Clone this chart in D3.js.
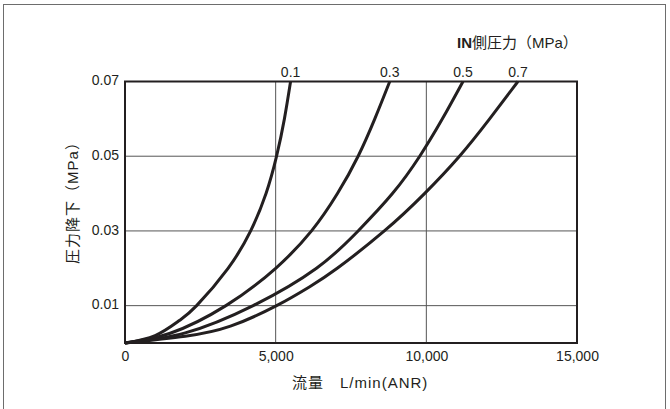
<!DOCTYPE html>
<html><head><meta charset="utf-8">
<script src="https://cdn.jsdelivr.net/npm/d3@7"></script>
<style>
html,body{margin:0;padding:0;background:#fff;}
svg{display:block;}
text{font-family:"Liberation Sans",Arial,"Noto Sans CJK JP",sans-serif;fill:#231f20;}
</style></head>
<body><svg id="c" width="670" height="409"></svg>
<script>
// ---- data ----
const inletPressures = ["0.1", "0.3", "0.5", "0.7"];
const flow01 = [0, 1000, 1800, 2377, 3420, 4170, 4680, 5030, 5290, 5495];
const drop01 = [0, 0.002, 0.006, 0.01, 0.02, 0.03, 0.04, 0.05, 0.06, 0.07];
const flow03 = [0, 1500, 3349, 5000, 6190, 7050, 7736, 8289, 8786];
const drop03 = [0, 0.0026, 0.01, 0.02, 0.03, 0.04, 0.05, 0.06, 0.07];
const flow05 = [0, 2000, 4254, 6355, 7736, 8875, 9781, 10533, 11217];
const drop05 = [0, 0.0027, 0.01, 0.02, 0.03, 0.04, 0.05, 0.06, 0.07];
const flow07 = [0, 2000, 3500, 5030, 6117, 7043, 8606, 9939, 11100, 12100, 13040];
const drop07 = [0, 0.0018, 0.0045, 0.01, 0.015, 0.02, 0.03, 0.04, 0.05, 0.06, 0.07];
const xTicks = [0, 5000, 10000, 15000];
const yTicks = [0.01, 0.03, 0.05, 0.07];
const xGrid = [5000, 10000];
const yGrid = [0.01, 0.03, 0.05];
const xTitle = "流量\u3000L/min(ANR)";
const yTitle = "圧力降下（MPa）";
const legendBold = "IN";
const legendRest = "側圧力（MPa）";

const seriesFlow = [flow01, flow03, flow05, flow07];
const seriesDrop = [drop01, drop03, drop05, drop07];

// ---- scales ----
const x = d3.scaleLinear().domain([0, 15000]).range([125, 577]);
const y = d3.scaleLinear().domain([0, 0.07]).range([343, 81.5]);

const svg = d3.select("#c");
svg.append("rect").attr("width", 670).attr("height", 409).attr("fill", "#fff");
// outer border
svg.append("rect").attr("x", 3.5).attr("y", 4.5).attr("width", 662).attr("height", 420)
  .attr("fill", "none").attr("stroke", "#6d6d6d").attr("stroke-width", 1);

// gridlines
svg.append("g").selectAll("line").data(xGrid).join("line")
  .attr("x1", d => x(d)).attr("x2", d => x(d)).attr("y1", y(0.07)).attr("y2", y(0))
  .attr("stroke", "#555").attr("stroke-width", 1);
svg.append("g").selectAll("line").data(yGrid).join("line")
  .attr("x1", x(0)).attr("x2", x(15000)).attr("y1", d => y(d)).attr("y2", d => y(d))
  .attr("stroke", "#555").attr("stroke-width", 1);

// frame
svg.append("rect").attr("x", x(0)).attr("y", y(0.07))
  .attr("width", x(15000) - x(0)).attr("height", y(0) - y(0.07))
  .attr("fill", "none").attr("stroke", "#231f20").attr("stroke-width", 2);

// axes
const xAxis = d3.axisBottom(x).tickValues(xTicks).tickFormat(d3.format(",")).tickSize(0).tickPadding(8);
const gx = svg.append("g").attr("transform", `translate(0,${y(0) + 0.5})`).call(xAxis);
gx.select(".domain").remove();
gx.selectAll("text").style("font-size", "14px").attr("fill", "#231f20");

const yAxis = d3.axisLeft(y).tickValues(yTicks).tickFormat(d3.format(".2f")).tickSize(0).tickPadding(6);
const gy = svg.append("g").attr("transform", `translate(${x(0)},0)`).call(yAxis);
gy.select(".domain").remove();
gy.selectAll("text").style("font-size", "14px").attr("fill", "#231f20").attr("dy", "0.22em");

// curves
const line = d3.line().x(d => x(d[0])).y(d => y(d[1])).curve(d3.curveNatural);
seriesFlow.forEach((fl, i) => {
  const pts = fl.map((f, j) => [f, seriesDrop[i][j]]);
  svg.append("path").datum(pts).attr("d", line)
    .attr("fill", "none").attr("stroke", "#231f20").attr("stroke-width", 3)
    .attr("stroke-linecap", "butt");
  const last = pts[pts.length - 1];
  svg.append("text").attr("x", x(last[0])).attr("y", y(0.07) - 5)
    .attr("text-anchor", "middle").style("font-size", "14px").text(inletPressures[i]);
});

// titles
svg.append("text").attr("x", 292).attr("y", 388).style("font-size", "15px")
  .style("letter-spacing", "1px").text(xTitle);
svg.append("text").attr("transform", `translate(78,199) rotate(-90)`).attr("text-anchor", "middle")
  .style("font-size", "15px").style("letter-spacing", "1px").text(yTitle);
const lg = svg.append("text").attr("x", 457).attr("y", 48).style("font-size", "15px");
lg.append("tspan").style("font-weight", "bold").text(legendBold);
lg.append("tspan").text(legendRest);
</script></body></html>
